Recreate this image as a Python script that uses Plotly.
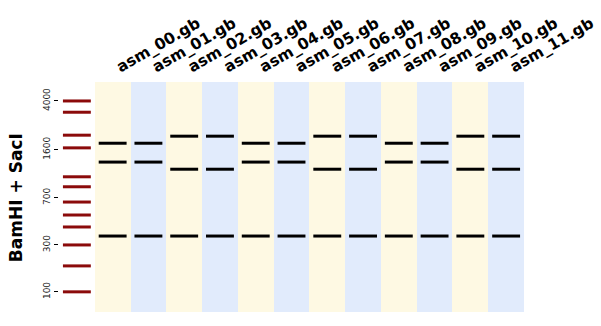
import numpy as np
import plotly.graph_objects as go

# ---- data ----
lane_names = ["asm_00.gb", "asm_01.gb", "asm_02.gb", "asm_03.gb", "asm_04.gb", "asm_05.gb",
              "asm_06.gb", "asm_07.gb", "asm_08.gb", "asm_09.gb", "asm_10.gb", "asm_11.gb"]
# band sizes (bp) per lane
lane_bands = [
    [1770, 1290, 346],
    [1770, 1290, 346],
    [1970, 1140, 346],
    [1970, 1140, 346],
    [1770, 1290, 346],
    [1770, 1290, 346],
    [1970, 1140, 346],
    [1970, 1140, 346],
    [1770, 1290, 346],
    [1770, 1290, 346],
    [1970, 1140, 346],
    [1970, 1140, 346],
]
# ladder calibration: band size (bp) -> migration distance (arbitrary units)
ladder_bp = [100, 200, 300, 400, 500, 650, 850, 1000, 1650, 2000, 3000, 4000]
ladder_migration = [210.3, 184.3, 163.3, 145.3, 133.3, 120.3, 105.0, 95.0, 66.0, 53.3, 30.3, 19.0]
tick_bp = [100, 300, 700, 1600, 4000]
tick_labels = ["100", "300", "700", "1600", "4000"]
gel_length = 230.5
digestion = "BamHI + SacI"

# ---- styling ----
lane_colors = ["#fef9e3", "#e1ebfc"]
band_half = 0.39
font = "DejaVu Sans"

lb = np.log10(np.array(ladder_bp, dtype=float))
lm = np.array(ladder_migration)
order = np.argsort(lb)


def migration(bp):
    return np.interp(np.log10(np.asarray(bp, dtype=float)), lb[order], lm[order])


lane_x = list(range(1, len(lane_names) + 1))

fig = go.Figure()
fig.add_trace(go.Bar(
    x=lane_x, y=[gel_length] * len(lane_x), base=0, width=1,
    marker=dict(color=[lane_colors[i % 2] for i in range(len(lane_x))], line=dict(width=0)),
    hoverinfo="skip", showlegend=False,
))

# ladder bands
lx, ly = [], []
for m in migration(ladder_bp):
    lx += [-band_half, band_half, None]
    ly += [m, m, None]
fig.add_trace(go.Scatter(x=lx, y=ly, mode="lines", line=dict(color="#8b0a0a", width=3),
                         hoverinfo="skip", showlegend=False))

# sample bands
bx, by = [], []
for xi, bands in zip(lane_x, lane_bands):
    for m in migration(bands):
        bx += [xi - band_half, xi + band_half, None]
        by += [m, m, None]
fig.add_trace(go.Scatter(x=bx, y=by, mode="lines", line=dict(color="black", width=3),
                         hoverinfo="skip", showlegend=False))

fig.update_layout(
    width=601, height=326,
    margin=dict(l=59, r=77, t=82, b=14),
    paper_bgcolor="white", plot_bgcolor="white",
    font=dict(family=font, color="black"),
    bargap=0,
    xaxis=dict(
        range=[-0.5, len(lane_names) + 0.5], side="top", automargin=False,
        tickmode="array", tickvals=lane_x, ticktext=lane_names,
        tickangle=-30, tickfont=dict(size=15.5, weight="bold", family=font),
        ticklabelstandoff=4, ticklabelshift=4,
        showgrid=False, zeroline=False, showline=False, ticks="",
    ),
    yaxis=dict(
        range=[gel_length, 0], automargin=False,
        tickmode="array", tickvals=list(migration(tick_bp)), ticktext=tick_labels,
        tickangle=-90, tickfont=dict(size=9, family=font, color="#222"),
        ticks="outside", ticklen=4, tickwidth=1, tickcolor="black",
        showgrid=False, zeroline=False, showline=False,
    ),
    annotations=[dict(
        text=digestion, xref="paper", yref="paper", x=-0.091, y=0.498,
        xanchor="center", yanchor="middle", textangle=-90, showarrow=False,
        font=dict(size=17, weight="bold", family=font),
    )],
)

fig.write_html("out.html")
